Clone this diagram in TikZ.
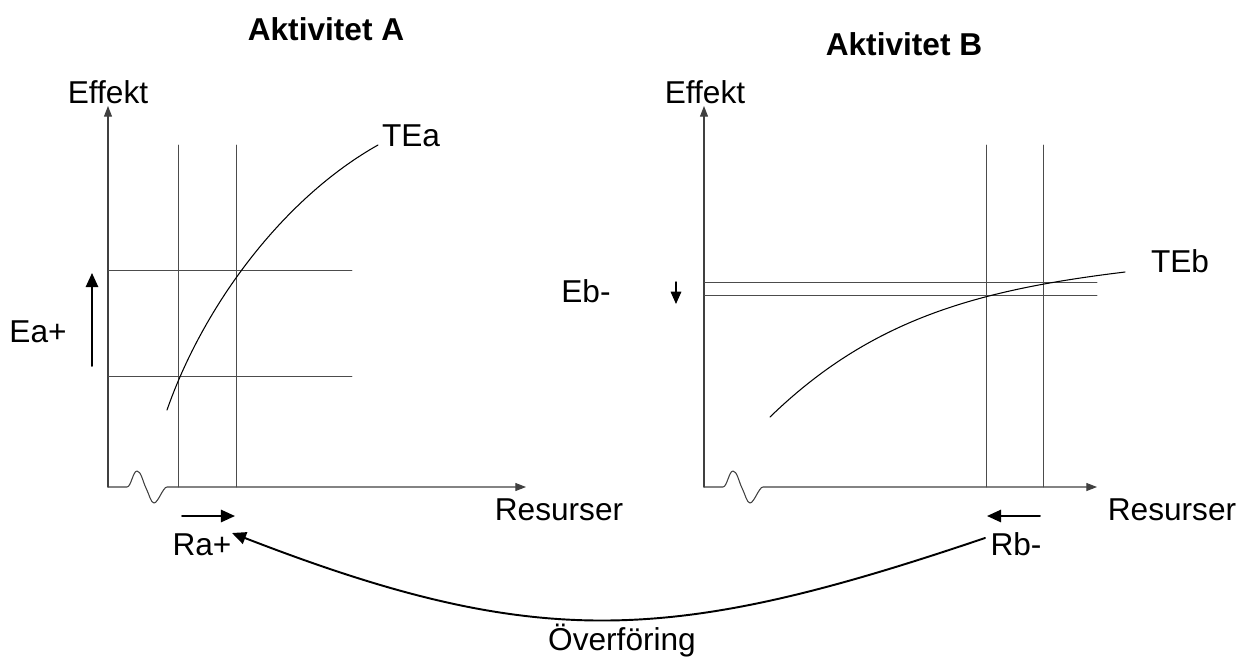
\documentclass[tikz,border=0pt]{standalone}
\usepackage{fontspec}
\setmainfont{Liberation Sans}
\usetikzlibrary{arrows.meta}
\begin{document}
\begin{tikzpicture}[x=0.02cm, y=-0.02cm, font=\fontsize{18}{21}\selectfont, line join=round, line cap=round, >={Triangle[length=6pt,width=4.5pt]}]
	\tikzset{axel/.style={draw=black!75, line width=0.6pt},
		hjalp/.style={draw=black!70, line width=0.55pt},
		kurva/.style={draw=black, line width=0.6pt},
		pil/.style={draw=black, line width=1.1pt, -{Triangle[length=8pt,width=7pt]}},
		etikett/.style={anchor=base, inner sep=0pt}}
	\useasboundingbox (0,0) rectangle (1248,657);
	% rubriker
	\node[etikett, font=\fontsize{18}{21}\selectfont\bfseries] (titelA) at (326,40) {Aktivitet A};
	\node[etikett, font=\fontsize{18}{21}\selectfont\bfseries] (titelB) at (904,55) {Aktivitet B};
	% aktivitet A
	\coordinate (oA) at (108,487);
	\coordinate (yA) at (108,106);
	\coordinate (xA) at (526,487);
	\draw[axel, ->] (oA)--(yA);
	\draw[axel, ->] (oA)--(127,487) .. controls (131,487) and (133,471) .. (137,471) .. controls (141,471) and (143,482) .. (146,488) .. controls (149,494) and (151,503) .. (154,503) .. controls (158,503) and (163,487) .. (167,487) --(xA);
	\node[etikett] (effektA) at (108,103) {Effekt};
	\node[etikett] (resA) at (559,520) {Resurser};
	\draw[hjalp] (178,145)--(178,487);
	\draw[hjalp] (236,145)--(236,487);
	\draw[hjalp] (108,270)--(352,270);
	\draw[hjalp] (108,376)--(352,376);
	\draw[kurva] (167,410) .. controls (203,307) and (282,199) .. (378,145);
	\node[etikett] (tea) at (411,146) {TEa};
	\node[etikett] (eaplus) at (38,342) {Ea+};
	\coordinate (eafran) at (92,366);
	\coordinate (eatill) at (92,273);
	\draw[pil] (eafran)--(eatill);
	\node[etikett] (raplus) at (202,555) {Ra+};
	\coordinate (rafran) at (182,516);
	\coordinate (ratill) at (235,516);
	\draw[pil] (rafran)--(ratill);
	% aktivitet B
	\coordinate (oB) at (704,487);
	\coordinate (yB) at (704,106);
	\coordinate (xB) at (1097,487);
	\draw[axel, ->] (oB)--(yB);
	\draw[axel, ->] (oB)--(723,487) .. controls (727,487) and (729,471) .. (733,471) .. controls (737,471) and (739,482) .. (742,488) .. controls (745,494) and (747,503) .. (750,503) .. controls (754,503) and (759,487) .. (763,487) --(xB);
	\node[etikett] (effektB) at (705,103) {Effekt};
	\node[etikett] (resB) at (1172,520) {Resurser};
	\draw[hjalp] (986,145)--(986,487);
	\draw[hjalp] (1043,145)--(1043,487);
	\draw[hjalp] (704,282)--(1097,282);
	\draw[hjalp] (704,295)--(1097,295);
	\draw[kurva] (770,417) .. controls (871,319) and (977,290) .. (1125,272);
	\node[etikett] (teb) at (1180,272) {TEb};
	\node[etikett] (ebminus) at (586,302) {Eb-};
	\coordinate (ebfran) at (676,282);
	\coordinate (ebtill) at (676,304);
	\draw[pil, line width=0.8pt, -{Triangle[length=7pt,width=6pt]}] (ebfran)--(ebtill);
	\node[etikett] (rbminus) at (1016,555) {Rb-};
	\coordinate (rbfran) at (1040,516);
	\coordinate (rbtill) at (987,516);
	\draw[pil] (rbfran)--(rbtill);
	% overforing
	\coordinate (flyttfran) at (985,538);
	\coordinate (flytttill) at (232,533);
	\draw[pil] (flyttfran) .. controls (672,644) and (539,652) .. (flytttill);
	\node[etikett] (overforing) at (622,650) {Överföring};
\end{tikzpicture}
\end{document}
